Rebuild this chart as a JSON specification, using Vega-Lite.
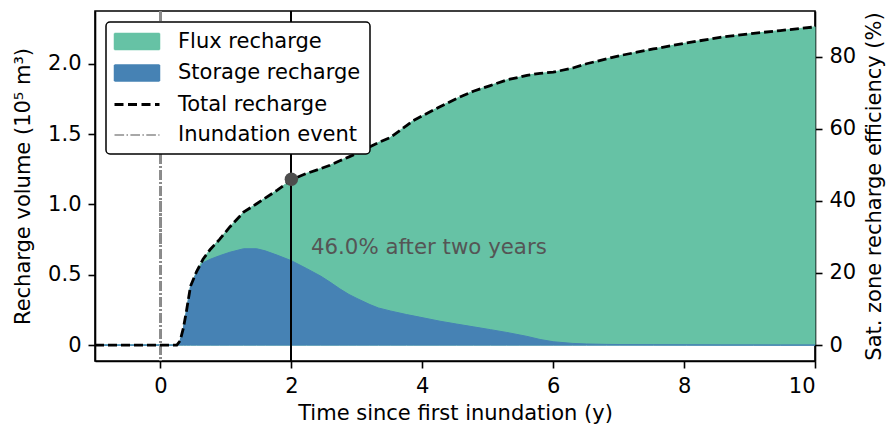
{
  "$schema": "https://vega.github.io/schema/vega-lite/v6.json",
  "width": 720,
  "height": 350,
  "autosize": {"type": "none"},
  "padding": {"left": 95, "top": 11, "right": 72, "bottom": 63},
  "config": {
    "font": "DejaVu Sans",
    "view": {"stroke": "black", "strokeWidth": 1.6},
    "axis": {
      "labelFont": "DejaVu Sans", "titleFont": "DejaVu Sans",
      "labelFontSize": 21, "titleFontSize": 21, "titleFontWeight": "normal",
      "labelColor": "black", "titleColor": "black",
      "tickColor": "black", "domainColor": "black",
      "tickSize": 7, "tickWidth": 1.6, "domainWidth": 1.6, "grid": false
    }
  },
  "datasets": {
    "recharge": [
      {"t": -1, "total": 0, "storage": 0},
      {"t": 0.25, "total": 0, "storage": 0},
      {"t": 0.3, "total": 0.03, "storage": 0.03},
      {"t": 0.35, "total": 0.12, "storage": 0.12},
      {"t": 0.4, "total": 0.25, "storage": 0.25},
      {"t": 0.46, "total": 0.42, "storage": 0.42},
      {"t": 0.55, "total": 0.52, "storage": 0.51},
      {"t": 0.65, "total": 0.61, "storage": 0.585},
      {"t": 0.76, "total": 0.68, "storage": 0.61},
      {"t": 0.9, "total": 0.75, "storage": 0.635},
      {"t": 1.06, "total": 0.84, "storage": 0.66},
      {"t": 1.27, "total": 0.945, "storage": 0.685},
      {"t": 1.47, "total": 1.005, "storage": 0.685},
      {"t": 1.6, "total": 1.045, "storage": 0.67},
      {"t": 1.78, "total": 1.1, "storage": 0.64},
      {"t": 2.0, "total": 1.175, "storage": 0.6},
      {"t": 2.23, "total": 1.22, "storage": 0.545},
      {"t": 2.45, "total": 1.255, "storage": 0.49},
      {"t": 2.59, "total": 1.278, "storage": 0.448},
      {"t": 2.74, "total": 1.31, "storage": 0.4},
      {"t": 2.88, "total": 1.338, "storage": 0.36},
      {"t": 3.0, "total": 1.362, "storage": 0.332},
      {"t": 3.2, "total": 1.41, "storage": 0.288},
      {"t": 3.33, "total": 1.44, "storage": 0.264},
      {"t": 3.51, "total": 1.475, "storage": 0.243},
      {"t": 3.76, "total": 1.56, "storage": 0.217},
      {"t": 3.86, "total": 1.595, "storage": 0.208},
      {"t": 4.27, "total": 1.695, "storage": 0.17},
      {"t": 4.52, "total": 1.752, "storage": 0.15},
      {"t": 4.78, "total": 1.805, "storage": 0.13},
      {"t": 5.04, "total": 1.845, "storage": 0.11},
      {"t": 5.29, "total": 1.885, "storage": 0.09},
      {"t": 5.49, "total": 1.905, "storage": 0.072},
      {"t": 5.6, "total": 1.918, "storage": 0.062},
      {"t": 5.8, "total": 1.932, "storage": 0.04},
      {"t": 6.0, "total": 1.94, "storage": 0.024},
      {"t": 6.3, "total": 1.97, "storage": 0.012},
      {"t": 6.51, "total": 2.0, "storage": 0.008},
      {"t": 6.82, "total": 2.035, "storage": 0.005},
      {"t": 7.02, "total": 2.058, "storage": 0.004},
      {"t": 7.53, "total": 2.105, "storage": 0.003},
      {"t": 8.04, "total": 2.148, "storage": 0.002},
      {"t": 8.55, "total": 2.188, "storage": 0.001},
      {"t": 9.06, "total": 2.216, "storage": 0.001},
      {"t": 9.47, "total": 2.236, "storage": 0},
      {"t": 10, "total": 2.262, "storage": 0}
    ],
    "marker": [
      {"t": 2, "eff": 46.0}
    ],
    "note": [
      {"t": 2.3, "eff": 26.9, "label": "46.0% after two years"}
    ]
  },
  "layer": [
    {
      "data": {"name": "recharge"},
      "encoding": {
        "x": {
          "field": "t", "type": "quantitative",
          "scale": {"domain": [-1, 10], "nice": false, "zero": false},
          "axis": {"title": "Time since first inundation (y)", "values": [0, 2, 4, 6, 8, 10], "format": "d", "labelPadding": 7, "titlePadding": 6}
        }
      },
      "layer": [
        {
          "mark": {"type": "area", "stroke": "#66c2a5", "strokeWidth": 1},
          "encoding": {
            "y": {
              "field": "total", "type": "quantitative",
              "scale": {"domain": [-0.113, 2.375], "nice": false, "zero": false},
              "axis": {
                "title": "Recharge volume (10⁵ m³)",
                "values": [0, 0.5, 1, 1.5, 2],
                "labelExpr": "datum.value == 0 ? '0' : format(datum.value, '.1f')",
                "labelPadding": 7, "titlePadding": 14
              }
            },
            "y2": {"datum": 0},
            "color": {
              "datum": "Flux recharge", "type": "nominal",
              "scale": {
                "domain": ["Flux recharge", "Storage recharge", "Total recharge", "Inundation event"],
                "range": ["#66c2a5", "#4682b4", "black", "#8c8c8c"]
              },
              "legend": {
                "title": null,
                "orient": "top-left",
                "offset": 11,
                "padding": 9,
                "strokeColor": "black",
                "cornerRadius": 4,
                "fillColor": "white",
                "labelFont": "DejaVu Sans",
                "labelFontSize": 21,
                "labelColor": "black",
                "labelLimit": 0,
                "symbolSize": 256,
                "rowPadding": 8.5,
                "labelOffset": 42,
                "encoding": {
                  "legend": {"strokeWidth": {"value": 1.5}},
                  "symbols": {
                    "shape": {"value": {"expr": "indexof(['Flux recharge','Storage recharge'], datum.value) >= 0 ? 'M-1.375,-1H4.25V1H-1.375Z' : 'M-1.375,0H4.25'"}},
                    "fill": {"value": {"expr": "datum.value == 'Flux recharge' ? '#66c2a5' : datum.value == 'Storage recharge' ? '#4682b4' : 'transparent'"}},
                    "stroke": {"value": {"expr": "datum.value == 'Total recharge' ? 'black' : datum.value == 'Inundation event' ? '#8c8c8c' : 'transparent'"}},
                    "strokeDash": {"value": {"expr": "datum.value == 'Total recharge' ? [9, 4.5] : datum.value == 'Inundation event' ? [9.6, 2.4, 1.5, 2.4] : [1, 0]"}},
                    "strokeWidth": {"value": {"expr": "datum.value == 'Total recharge' ? 2.8 : 1.5"}},
                    "opacity": {"value": 1}
                  }
                }
              }
            }
          }
        },
        {
          "mark": {"type": "area", "stroke": "#4682b4", "strokeWidth": 1},
          "encoding": {
            "y": {"field": "storage", "type": "quantitative"},
            "y2": {"datum": 0},
            "color": {"datum": "Storage recharge", "type": "nominal", "legend": null}
          }
        },
        {
          "mark": {"type": "rule", "strokeWidth": 1.5, "strokeDash": [9.6, 2.4, 1.5, 2.4]},
          "encoding": {
            "x": {"datum": 0},
            "color": {"datum": "Inundation event", "type": "nominal", "legend": null}
          }
        },
        {
          "mark": {"type": "line", "strokeWidth": 2.8, "strokeDash": [9, 4]},
          "encoding": {
            "y": {"field": "total", "type": "quantitative"},
            "color": {"datum": "Total recharge", "type": "nominal", "legend": null}
          }
        },
        {
          "mark": {"type": "rule", "strokeWidth": 1, "color": "black"},
          "encoding": {
            "x": {"datum": 2}
          }
        }
      ]
    },
    {
      "encoding": {
        "x": {"field": "t", "type": "quantitative"}
      },
      "layer": [
        {
          "data": {"name": "marker"},
          "mark": {"type": "point", "filled": true, "size": 180, "color": "#4d4d4d", "opacity": 1},
          "encoding": {
            "y": {
              "field": "eff", "type": "quantitative",
              "scale": {"domain": [-4.42, 92.7], "nice": false, "zero": false},
              "axis": {
                "orient": "right",
                "title": "Sat. zone recharge efficiency (%)",
                "values": [0, 20, 40, 60, 80],
                "labelPadding": 7,
                "titleAngle": 270,
                "titleBaseline": "top",
                "titlePadding": 8
              }
            }
          }
        },
        {
          "data": {"name": "note"},
          "mark": {"type": "text", "align": "left", "baseline": "middle", "fontSize": 21.3, "font": "DejaVu Sans", "color": "#555555"},
          "encoding": {
            "y": {"field": "eff", "type": "quantitative"},
            "text": {"field": "label"}
          }
        }
      ]
    }
  ],
  "resolve": {"scale": {"y": "independent"}}
}
